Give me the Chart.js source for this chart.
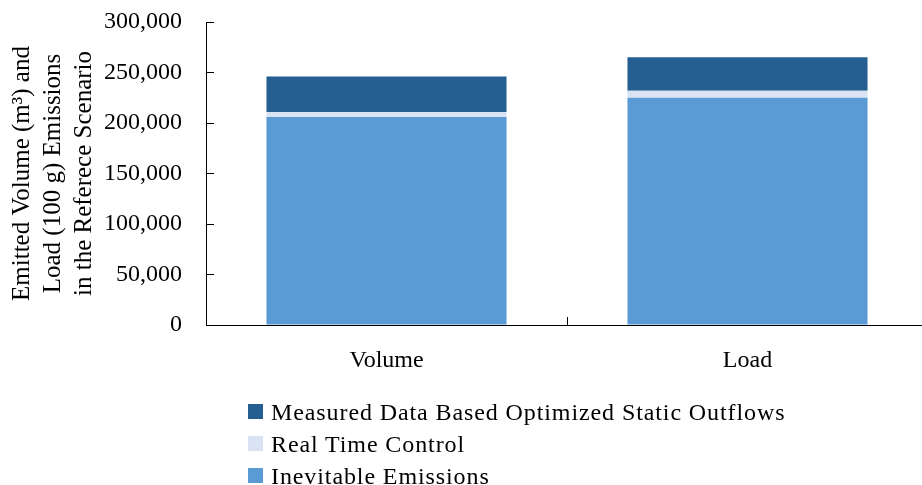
<!DOCTYPE html>
<html>
<head>
<meta charset="utf-8">
<script src="https://cdn.jsdelivr.net/npm/chart.js@4.4.1/dist/chart.umd.min.js"></script>
<style>
  html, body { margin: 0; padding: 0; background: #fff; overflow: hidden; width: 922px; height: 485px; }
  #wrap { position: absolute; left: 0; top: 0; width: 930px; height: 485px; }
  #legend { position: absolute; left: 248px; top: 0; font-family: "Liberation Serif", serif; font-size: 24px; letter-spacing: 0.9px; color: #000; }
  .item { position: absolute; left: 0; height: 32px; line-height: 32px; display: flex; align-items: center; white-space: nowrap; }
  .box { width: 15px; height: 15px; margin-right: 8px; flex: none; }
</style>
</head>
<body>
<div id="wrap"><canvas id="c" width="930" height="485"></canvas></div>
<div id="legend"></div>
<script>
// ---- data ----
const categories = ['Volume', 'Load'];
const inevitableEmissions = [206000, 225000];
const realTimeControl = [5000, 7000];
const measuredDataStatic = [35000, 33000];
const yTickValues = [0, 50000, 100000, 150000, 200000, 250000, 300000];
const seriesNames = ['Inevitable Emissions', 'Real Time Control', 'Measured Data Based Optimized Static Outflows'];
const yAxisTitle = ['Emitted Volume (m\u00B3) and', 'Load (100 g) Emissions', 'in the Referece Scenario'];

// ---- styles ----
const colors = ['#5B9BD5', '#DAE3F3', '#255E91'];
const FONT = '"Liberation Serif", serif';

const seriesValues = [inevitableEmissions, realTimeControl, measuredDataStatic];
const datasets = seriesNames.map((name, i) => ({
  label: name,
  data: seriesValues[i],
  backgroundColor: colors[i],
  borderWidth: 0,
  barPercentage: 0.665,
  categoryPercentage: 1.0
}));

const chart = new Chart(document.getElementById('c'), {
  type: 'bar',
  data: { labels: categories, datasets: datasets },
  options: {
    responsive: false,
    animation: false,
    layout: { padding: { top: 22, left: 0, right: 2, bottom: 0 } },
    plugins: { legend: { display: false }, tooltip: { enabled: false } },
    scales: {
      x: {
        stacked: true,
        offset: true,
        border: { display: true, color: '#000', width: 1 },
        grid: { offset: true, drawOnChartArea: false, drawTicks: true, tickLength: -8, color: '#000', lineWidth: 1 },
        ticks: { color: '#000', font: { family: FONT, size: 24 }, padding: 29, maxRotation: 0 },
        afterFit: (s) => { s.height = 160; s.paddingLeft = 0; s.paddingRight = 0; }
      },
      y: {
        stacked: true,
        min: yTickValues[0],
        max: yTickValues[yTickValues.length - 1],
        afterBuildTicks: (s) => { s.ticks = yTickValues.map(v => ({ value: v })); },
        border: { display: true, color: '#000', width: 1 },
        grid: { drawOnChartArea: false, drawTicks: true, tickLength: -8, color: '#000', lineWidth: 1 },
        ticks: {
          color: '#000',
          font: { family: FONT, size: 24 },
          padding: 32,
          callback: (v) => Number(v).toLocaleString('en-US')
        },
        title: {
          display: true,
          text: yAxisTitle,
          color: '#000',
          font: { family: FONT, size: 25, lineHeight: '31px' },
          padding: { top: 7, bottom: 0 }
        },
        afterFit: (s) => { s.width = 206; s.paddingTop = 0; s.paddingBottom = 0; }
      }
    }
  }
});

// ---- HTML legend (reverse order, one item per row) ----
const legend = document.getElementById('legend');
const rowCenters = [411.5, 443.5, 475.5];
datasets.slice().reverse().forEach((ds, i) => {
  const row = document.createElement('div');
  row.className = 'item';
  row.style.top = (rowCenters[i] - 16) + 'px';
  const box = document.createElement('span');
  box.className = 'box';
  box.style.background = ds.backgroundColor;
  const txt = document.createElement('span');
  txt.textContent = ds.label;
  row.appendChild(box);
  row.appendChild(txt);
  legend.appendChild(row);
});
</script>
</body>
</html>
